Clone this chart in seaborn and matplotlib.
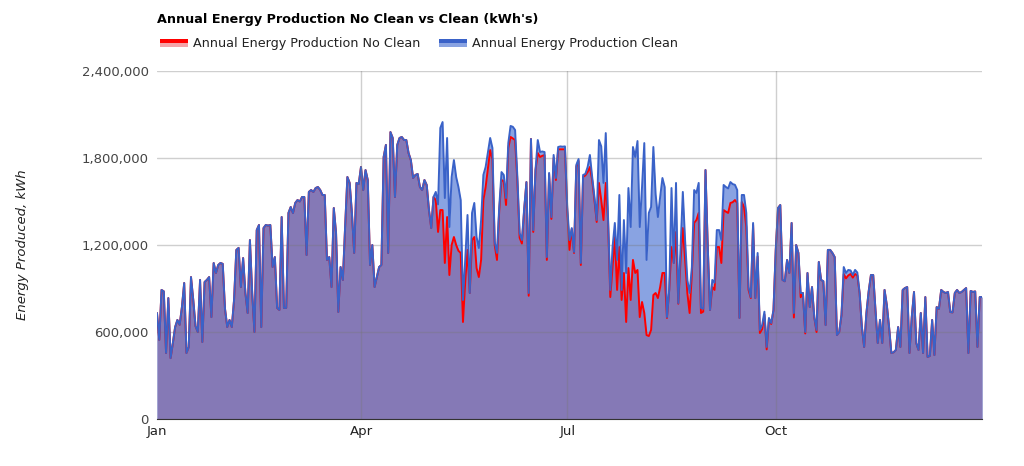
import numpy as np
import pandas as pd
import matplotlib
matplotlib.use('Agg')
import matplotlib.pyplot as plt
import matplotlib.dates as mdates
from matplotlib.patches import Rectangle
from matplotlib.legend_handler import HandlerBase
import seaborn as sns

# ─────────────────────────────────────────────
# daily production, thousands of kWh
# ─────────────────────────────────────────────
clean_jan = [731, 545, 890, 880, 455, 834, 420, 524, 634, 683, 650, 772, 938, 455, 496, 979,
             821, 640, 600, 959, 531, 945, 959, 979, 703, 1076, 1007, 1062, 1076, 1070, 760]
clean_feb = [634, 683, 634, 821, 1166, 1180, 910, 1110, 869, 731, 1234, 869, 600, 1303, 1338,
             634, 1317, 1338, 1334, 1338, 1048, 1117, 766, 752, 1393, 766, 766, 1421]
clean_mar = [1462, 1420, 1490, 1510, 1500, 1531, 1531, 1131, 1566, 1579, 1566, 1593, 1600, 1580,
             1545, 1545, 1097, 1117, 910, 1455, 1283, 738, 1048, 959, 1324, 1669, 1628, 1421,
             1145, 1628, 1620]
clean_apr = [1738, 1579, 1717, 1648, 1062, 1200, 910, 979, 1048, 1062, 1807, 1890, 1145, 1979,
             1938, 1531, 1890, 1938, 1945, 1924, 1924, 1834, 1786, 1662, 1683, 1690, 1600, 1579,
             1648, 1614]
clean_may = [1441, 1317, 1531, 1566, 1480, 2007, 2048, 1524, 1938, 1324, 1669, 1786, 1669, 1600,
             1510, 821, 1100, 1407, 869, 1421, 1490, 1255, 1179, 1372, 1683, 1738, 1840, 1938,
             1869, 1221, 1145]
clean_jun = [1462, 1703, 1683, 1524, 1903, 2021, 2015, 1993, 1669, 1283, 1234, 1450, 1634, 869,
             1931, 1303, 1717, 1924, 1841, 1845, 1841, 1117, 1697, 1393, 1821, 1662, 1876, 1880,
             1878, 1880]
clean_jul = [1462, 1234, 1317, 1152, 1752, 1793, 1076, 1683, 1690, 1738, 1821, 1670, 1531, 1372,
             1924, 1880, 1628, 1972, 1393, 890, 1186, 1352, 1097, 1545, 890, 1372, 1007, 1593,
             1324, 1876, 1807]
clean_aug = [1917, 1324, 1600, 1903, 1097, 1421, 1462, 1876, 1550, 1393, 1531, 1662, 1600, 703,
             890, 1593, 1076, 1628, 800, 1186, 1566, 1234, 959, 869, 1048, 1579, 1559, 1628, 766,
             760, 1717]
clean_sep = [1186, 752, 959, 940, 1303, 1303, 1234, 1614, 1600, 1590, 1634, 1620, 1615, 1579, 697,
             1545, 1545, 1421, 910, 840, 1352, 834, 1145, 614, 648, 740, 497, 697, 662, 752]
clean_oct = [1166, 1455, 1476, 959, 950, 1097, 1007, 1352, 731, 1200, 1145, 869, 869, 600, 1007,
             772, 910, 703, 614, 1083, 959, 950, 648, 1166, 1166, 1145, 1117, 579, 600, 717, 1048]
clean_nov = [1007, 1028, 1025, 993, 1028, 1010, 869, 634, 497, 731, 880, 993, 993, 752, 524, 683,
             524, 890, 786, 634, 455, 460, 476, 634, 497, 890, 903, 910, 455, 700]
clean_dec = [876, 524, 476, 731, 455, 841, 428, 435, 683, 441, 772, 760, 890, 876, 869, 876, 738,
             735, 869, 890, 869, 876, 890, 903, 455, 883, 876, 880, 497, 841, 841]

noclean_jan = [731, 545, 890, 880, 455, 834, 420, 524, 634, 683, 650, 772, 938, 455, 496, 979,
               821, 640, 600, 959, 531, 945, 959, 979, 703, 1076, 1007, 1062, 1076, 1070, 760]
noclean_feb = [634, 683, 634, 821, 1166, 1180, 910, 1110, 869, 731, 1234, 869, 600, 1303, 1338,
               634, 1317, 1338, 1334, 1338, 1048, 1117, 766, 752, 1393, 766, 766, 1421]
noclean_mar = [1462, 1420, 1490, 1510, 1500, 1531, 1531, 1131, 1566, 1579, 1566, 1593, 1600, 1580,
               1545, 1545, 1097, 1117, 910, 1455, 1283, 738, 1048, 959, 1324, 1669, 1628, 1421,
               1145, 1628, 1620]
noclean_apr = [1738, 1579, 1717, 1648, 1062, 1200, 910, 979, 1048, 1062, 1807, 1890, 1145, 1979,
               1938, 1531, 1890, 1938, 1945, 1924, 1924, 1834, 1786, 1662, 1683, 1690, 1600, 1579,
               1648, 1614]
noclean_may = [1441, 1317, 1531, 1510, 1290, 1441, 1441, 1076, 1393, 993, 1200, 1255, 1200, 1160,
               1145, 669, 950, 1166, 869, 1234, 1255, 1041, 979, 1097, 1510, 1600, 1730, 1855,
               1790, 1200, 1097]
noclean_jun = [1440, 1648, 1640, 1476, 1870, 1945, 1935, 1924, 1640, 1250, 1210, 1440, 1634, 850,
               1931, 1290, 1717, 1834, 1807, 1815, 1820, 1097, 1690, 1380, 1800, 1648, 1860, 1860,
               1860, 1860]
noclean_jul = [1440, 1166, 1310, 1145, 1740, 1780, 1062, 1670, 1680, 1703, 1738, 1648, 1510, 1359,
               1628, 1510, 1372, 1628, 1372, 841, 1048, 1255, 890, 1186, 821, 1007, 669, 1041,
               821, 1097, 1007]
noclean_aug = [1028, 703, 807, 731, 579, 572, 614, 855, 869, 834, 910, 1007, 1007, 697, 890, 1186,
               1076, 1290, 795, 1097, 1317, 1100, 869, 731, 1007, 1352, 1372, 1421, 731, 740, 1717]
noclean_sep = [1186, 752, 910, 890, 1186, 1186, 1076, 1441, 1430, 1421, 1490, 1495, 1510, 1490,
               697, 1497, 1462, 1324, 890, 834, 1340, 834, 1120, 593, 620, 720, 480, 690, 655, 750]
noclean_oct = [1166, 1455, 1476, 959, 950, 1097, 1007, 1352, 700, 1200, 1145, 840, 869, 590, 1007,
               772, 910, 703, 600, 1083, 959, 950, 648, 1166, 1166, 1145, 1117, 579, 600, 717, 1000]
noclean_nov = [970, 990, 1000, 975, 1000, 990, 869, 634, 497, 731, 880, 993, 993, 752, 524, 683,
               524, 890, 786, 634, 455, 460, 476, 634, 497, 890, 903, 910, 455, 700]
noclean_dec = [876, 524, 476, 731, 455, 841, 428, 435, 683, 441, 772, 760, 890, 876, 869, 876, 738,
               735, 869, 890, 869, 876, 890, 903, 455, 883, 876, 880, 497, 841, 841]

clean = (clean_jan + clean_feb + clean_mar + clean_apr + clean_may + clean_jun +
         clean_jul + clean_aug + clean_sep + clean_oct + clean_nov + clean_dec)
no_clean = (noclean_jan + noclean_feb + noclean_mar + noclean_apr + noclean_may + noclean_jun +
            noclean_jul + noclean_aug + noclean_sep + noclean_oct + noclean_nov + noclean_dec)

dates = pd.date_range('2019-01-01', periods=len(clean), freq='D')
df = pd.DataFrame({'Date': dates,
                   'Clean': np.array(clean) * 1000,
                   'NoClean': np.array(no_clean) * 1000})

# ─────────────────────────────────────────────
# style
# ─────────────────────────────────────────────
sns.set_style('white')
plt.rcParams['font.family'] = ['DejaVu Sans']

c_blue_line = '#3a62c8'
c_blue_fill = '#89a3e2'
c_overlap   = '#8579b6'
c_red_line  = '#ff0000'
c_red_fill  = '#f5a3a8'
txt_col     = '#444444'


class SwatchHandler(HandlerBase):
    """Google-style legend swatch: coloured line on top, light fill below."""
    def __init__(self, line_col, fill_col):
        super().__init__()
        self.line_col, self.fill_col = line_col, fill_col

    def create_artists(self, legend, orig, x0, y0, w, h, fontsize, trans):
        top = Rectangle((x0, y0 + h * 0.5), w, h * 0.5, fc=self.line_col, lw=0, transform=trans)
        bot = Rectangle((x0, y0), w, h * 0.5, fc=self.fill_col, lw=0, transform=trans)
        return [bot, top]


fig = plt.figure(figsize=(10.24, 4.66), dpi=100)
ax = fig.add_axes([157 / 1024, 47 / 466, 825 / 1024, 348 / 466])

ax.fill_between(df['Date'], df['Clean'], color=c_blue_fill, lw=0, zorder=1)
ax.fill_between(df['Date'], df['NoClean'], color=c_overlap, lw=0, zorder=2)
sns.lineplot(data=df, x='Date', y='NoClean', color=c_red_line, lw=1.4, ax=ax, zorder=3)
sns.lineplot(data=df, x='Date', y='Clean', color=c_blue_line, lw=1.4, ax=ax, zorder=4)

ax.set_xlim(dates[0], dates[-1])
ax.set_ylim(0, 2400000)
ax.set_yticks([0, 600000, 1200000, 1800000, 2400000])
ax.yaxis.set_major_formatter(plt.FuncFormatter(lambda v, _: f'{v:,.0f}'))

month_starts = pd.to_datetime(['2019-01-01', '2019-04-01', '2019-07-01', '2019-10-01'])
ax.set_xticks(month_starts)
ax.xaxis.set_major_formatter(mdates.DateFormatter('%b'))

ax.grid(True, axis='y', color='#777777', alpha=0.35, lw=1, zorder=5)
for d in month_starts[1:]:
    ax.axvline(d, color='#777777', alpha=0.35, lw=1, zorder=5)
ax.set_axisbelow(False)

for s in ['top', 'right', 'left']:
    ax.spines[s].set_visible(False)
ax.spines['bottom'].set_color('#333333')
ax.spines['bottom'].set_zorder(6)
ax.tick_params(axis='both', length=0, labelsize=9.5, colors=txt_col, pad=6)
ax.tick_params(axis='x', pad=4)
for lab in ax.get_xticklabels():
    lab.set_color('#222222')

ax.set_xlabel('')
ax.set_ylabel('Energy Produced, kWh', fontsize=9.5, style='italic', color='#222222', labelpad=0)
ax.yaxis.set_label_coords(-128 / 825, 0.5)

fig.text(157 / 1024, 1 - 20 / 466, "Annual Energy Production No Clean vs Clean (kWh's)",
         fontsize=9.2, fontweight='bold', color='black', ha='left', va='center')

h_red, h_blue = object(), object()
fig.legend([h_red, h_blue],
           ['Annual Energy Production No Clean', 'Annual Energy Production Clean'],
           handler_map={h_red: SwatchHandler(c_red_line, c_red_fill),
                        h_blue: SwatchHandler(c_blue_line, c_blue_fill)},
           loc='center left', bbox_to_anchor=(155 / 1024, 1 - 43 / 466), ncol=2,
           frameon=False, fontsize=9.2, handlelength=2.2, handleheight=0.55,
           handletextpad=0.35, columnspacing=1.5, labelcolor='#222222', borderaxespad=0)

plt.savefig('out.png', dpi=100)
plt.close()
